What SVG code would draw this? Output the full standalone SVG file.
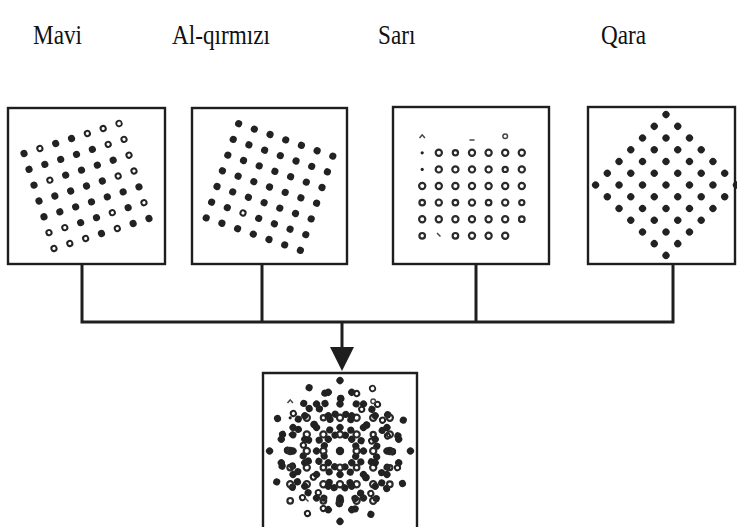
<svg xmlns="http://www.w3.org/2000/svg" xmlns:xlink="http://www.w3.org/1999/xlink" width="737" height="527" viewBox="0 0 737 527">
  <style>
    .lbl { font-family: "Liberation Serif", "Times New Roman", serif; font-size: 27px; fill: #111; }
    .box { fill: #fff; stroke: #1e1e1e; stroke-width: 2.4; }
    .wire { fill: none; stroke: #1e1e1e; stroke-width: 3; stroke-linejoin: miter; }
    .d { fill: #222; }
    .hole { fill: #fff; }
    .o { fill: none; stroke: #2a2a2a; stroke-width: 2.2; }
    .mk { fill: none; stroke: #444; stroke-width: 1.5; }
  </style>
  <defs>
    <!-- one row of seven dots, pitch 16.6 -->
    <g id="row">
      <circle class="d" cx="-49.8" cy="0" r="3.6"/>
      <circle class="d" cx="-33.2" cy="0" r="3.6"/>
      <circle class="d" cx="-16.6" cy="0" r="3.6"/>
      <circle class="d" cx="0" cy="0" r="3.6"/>
      <circle class="d" cx="16.6" cy="0" r="3.6"/>
      <circle class="d" cx="33.2" cy="0" r="3.6"/>
      <circle class="d" cx="49.8" cy="0" r="3.6"/>
    </g>
    <!-- 7 x 7 square dot grid centred on the origin -->
    <g id="grid">
      <use xlink:href="#row" y="-49.8"/>
      <use xlink:href="#row" y="-33.2"/>
      <use xlink:href="#row" y="-16.6"/>
      <use xlink:href="#row" y="0"/>
      <use xlink:href="#row" y="16.6"/>
      <use xlink:href="#row" y="33.2"/>
      <use xlink:href="#row" y="49.8"/>
    </g>
    <!-- blue screen: grid turned -17.5 deg, some dots printed as rings -->
    <g id="pat1" transform="rotate(-17.5)">
      <use xlink:href="#grid"/>
      <circle class="hole" cx="-33.2" cy="-49.8" r="1.6"/>
      <circle class="hole" cx="16.6" cy="-49.8" r="1.6"/>
      <circle class="hole" cx="33.2" cy="-49.8" r="1.6"/>
      <circle class="hole" cx="49.8" cy="-49.8" r="1.9"/>
      <circle class="hole" cx="33.2" cy="-33.2" r="1.6"/>
      <circle class="hole" cx="49.8" cy="-33.2" r="1.6"/>
      <circle class="hole" cx="-33.2" cy="-16.6" r="1.6"/>
      <circle class="hole" cx="49.8" cy="-16.6" r="1.6"/>
      <circle class="hole" cx="33.2" cy="0" r="1.6"/>
      <circle class="hole" cx="49.8" cy="0" r="1.6"/>
      <circle class="hole" cx="-49.8" cy="33.2" r="1.6"/>
      <circle class="hole" cx="-33.2" cy="33.2" r="1.6"/>
      <circle class="hole" cx="16.6" cy="33.2" r="1.6"/>
      <circle class="hole" cx="49.8" cy="33.2" r="1.6"/>
      <circle class="hole" cx="-49.8" cy="49.8" r="1.6"/>
      <circle class="hole" cx="-33.2" cy="49.8" r="1.6"/>
      <circle class="hole" cx="-16.6" cy="49.8" r="1.6"/>
      <circle class="hole" cx="16.6" cy="49.8" r="1.6"/>
    </g>
    <!-- magenta screen: grid turned +19 deg -->
    <g id="pat2" transform="rotate(19)">
      <use xlink:href="#grid"/>
      <circle class="hole" cx="-16.6" cy="33.2" r="1.6"/>
    </g>
    <!-- yellow screen: upright grid of small rings -->
    <g id="pat3">
      <path class="mk" d="M-52.5 -48 l2.7 -3.2 l2.7 3.2"/>
      <path class="mk" d="M-2.5 -46 h5"/>
      <circle class="mk" cx="33.2" cy="-49.8" r="2.3"/>
      <circle class="d" cx="-49.8" cy="-33.2" r="1.6"/>
      <circle class="o" cx="-33.2" cy="-33.2" r="3.1"/>
      <circle class="o" cx="-16.6" cy="-33.2" r="2.6"/>
      <circle class="o" cx="0" cy="-33.2" r="3.1"/>
      <circle class="o" cx="16.6" cy="-33.2" r="3.1"/>
      <circle class="o" cx="33.2" cy="-33.2" r="3.1"/>
      <circle class="o" cx="49.8" cy="-33.2" r="3.1"/>
      <circle class="d" cx="-49.8" cy="-16.6" r="1.6"/>
      <circle class="o" cx="-33.2" cy="-16.6" r="3.1"/>
      <circle class="o" cx="-16.6" cy="-16.6" r="3.1"/>
      <circle class="o" cx="0" cy="-16.6" r="3.1"/>
      <circle class="o" cx="16.6" cy="-16.6" r="3.1"/>
      <circle class="o" cx="33.2" cy="-16.6" r="2.6"/>
      <circle class="o" cx="49.8" cy="-16.6" r="3.1"/>
      <circle class="o" cx="-49.8" cy="0" r="3.1"/>
      <circle class="o" cx="-33.2" cy="0" r="3.1"/>
      <circle class="o" cx="-16.6" cy="0" r="3.1"/>
      <circle class="o" cx="0" cy="0" r="3.1"/>
      <circle class="o" cx="16.6" cy="0" r="3.1"/>
      <circle class="o" cx="33.2" cy="0" r="3.1"/>
      <circle class="o" cx="49.8" cy="0" r="3.1"/>
      <circle class="o" cx="-49.8" cy="16.6" r="2.8"/>
      <circle class="o" cx="-33.2" cy="16.6" r="3.1"/>
      <circle class="o" cx="-16.6" cy="16.6" r="2.8"/>
      <circle class="o" cx="0" cy="16.6" r="3.1"/>
      <circle class="o" cx="16.6" cy="16.6" r="2.8"/>
      <circle class="o" cx="33.2" cy="16.6" r="3.1"/>
      <circle class="o" cx="49.8" cy="16.6" r="2.6"/>
      <circle class="o" cx="-49.8" cy="33.2" r="3.1"/>
      <circle class="o" cx="-33.2" cy="33.2" r="3.1"/>
      <circle class="o" cx="-16.6" cy="33.2" r="3.1"/>
      <circle class="o" cx="0" cy="33.2" r="3.1"/>
      <circle class="o" cx="16.6" cy="33.2" r="3.1"/>
      <circle class="o" cx="33.2" cy="33.2" r="3.1"/>
      <circle class="o" cx="49.8" cy="33.2" r="2.8"/>
      <circle class="o" cx="-49.8" cy="49.8" r="2.8"/>
      <path class="mk" d="M-35 47 l3.5 3.5"/>
      <circle class="o" cx="-16.6" cy="49.8" r="2.8"/>
      <circle class="o" cx="0" cy="49.8" r="3.1"/>
      <circle class="o" cx="16.6" cy="49.8" r="3.1"/>
      <circle class="o" cx="33.2" cy="49.8" r="3.1"/>
    </g>
    <!-- black screen: grid turned 45 deg -->
    <g id="pat4" transform="rotate(45)">
      <use xlink:href="#grid"/>
    </g>
  </defs>

  <!-- colour names, set in a narrow serif -->
  <g id="labels" font-family="Liberation Serif, Times New Roman, serif">
    <text class="lbl" transform="translate(33,44) scale(0.86,1)">Mavi</text>
    <text class="lbl" transform="translate(172,44) scale(0.86,1)">Al-qırmızı</text>
    <text class="lbl" transform="translate(378,44) scale(0.86,1)">Sarı</text>
    <text class="lbl" transform="translate(601,44) scale(0.86,1)">Qara</text>
  </g>

  <!-- separate colour screens -->
  <g id="screen-blue">
    <rect class="box" x="8" y="108" width="157" height="156"/>
    <use xlink:href="#pat1" transform="translate(86.5,186)"/>
  </g>
  <g id="screen-magenta">
    <rect class="box" x="192" y="108" width="155" height="156"/>
    <use xlink:href="#pat2" transform="translate(269.5,187)"/>
  </g>
  <g id="screen-yellow">
    <rect class="box" x="393" y="107" width="156" height="157"/>
    <use xlink:href="#pat3" transform="translate(472,186)"/>
  </g>
  <g id="screen-black">
    <rect class="box" x="588" y="107" width="147" height="157"/>
    <use xlink:href="#pat4" transform="translate(666,185)"/>
  </g>

  <!-- combining bus and arrow -->
  <g id="connectors">
    <path class="wire" d="M82 264 V322 H673 V264"/>
    <path class="wire" d="M262 264 V322"/>
    <path class="wire" d="M476 264 V322"/>
    <path class="wire" d="M342 322 V350"/>
    <polygon points="330,347 354,347 342,371" fill="#1e1e1e"/>
  </g>

  <!-- superimposed result -->
  <g id="screen-combined">
    <path class="box" d="M263 540 V373 H417 V540"/>
    <use xlink:href="#pat1" transform="translate(340,451)"/>
    <use xlink:href="#pat2" transform="translate(340,451)"/>
    <use xlink:href="#pat3" transform="translate(340,451)"/>
    <use xlink:href="#pat4" transform="translate(340,451)"/>
  </g>
</svg>
